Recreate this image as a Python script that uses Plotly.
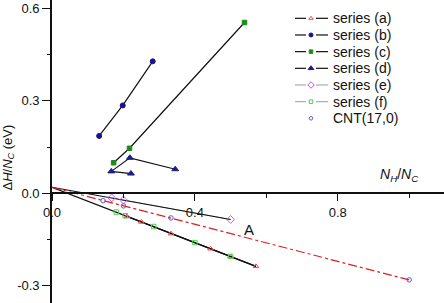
import plotly.graph_objects as go

# ---------------- data ----------------
a_x = [0.21, 0.25, 0.333, 0.444, 0.5, 0.571]
a_y = [-0.075, -0.093, -0.131, -0.180, -0.205, -0.237]
b_x = [0.132, 0.198, 0.282]
b_y = [0.186, 0.285, 0.428]
c_x = [0.1725, 0.217, 0.539]
c_y = [0.099, 0.146, 0.554]
d_x = [0.221, 0.166, 0.218, 0.345]
d_y = [0.064, 0.071, 0.115, 0.078]
e_x = [0.167, 0.2, 0.5]
e_y = [-0.015, -0.022, -0.085]
f_x = [0.18, 0.205, 0.285, 0.40, 0.50]
f_y = [-0.061, -0.073, -0.108, -0.160, -0.205]
cnt_x = [0.143, 0.2, 0.333, 1.0]
cnt_y = [-0.024, -0.041, -0.080, -0.281]

fit1_x = [0.0, 0.5]
fit1_y = [0.0195, -0.085]
fit2_x = [0.0, 0.571]
fit2_y = [0.0195, -0.237]
fit3_x = [0.0, 1.0]
fit3_y = [0.0195, -0.281]

y_tickvals = [-0.3, 0.0, 0.3, 0.6]
y_ticktext = ["-0.3", "0.0", "0.3", "0.6"]
x_tickvals = [0.0, 0.4, 0.8]
x_ticktext = ["0.0", "0.4", "0.8"]

series_names = ["series (a)", "series (b)", "series (c)", "series (d)",
                "series (e)", "series (f)", "CNT(17,0)"]

# ---------------- styles ----------------
FONT = "Arial, Liberation Sans, sans-serif"
W, H = 444, 303
ML = 52
XR = [0.0, 1.0975]
YR = [-0.356, 0.627]

styles = [
    dict(symbol="triangle-up-open", color="#f04848", size=5, line="#111111"),
    dict(symbol="circle", color="#14148c", size=5, line="#111111"),
    dict(symbol="square", color="#1a8c1a", size=4.5, line="#111111"),
    dict(symbol="triangle-up", color="#1c1c8a", size=6, line="#111111"),
    dict(symbol="diamond-open", color="#cc55ee", size=6, line="#aaaaaa"),
    dict(symbol="square-open", color="#55cc55", size=4.5, line="#aaaaaa"),
    dict(symbol="circle-open", color="#5a5ad8", size=4.5, line=None),
]
xs = [a_x, b_x, c_x, d_x, e_x, f_x, cnt_x]
ys = [a_y, b_y, c_y, d_y, e_y, f_y, cnt_y]

fig = go.Figure()

# gray series lines first (under fits)
for i in (4, 5):
    fig.add_trace(go.Scatter(x=xs[i], y=ys[i], mode="lines",
                             line=dict(color=styles[i]["line"], width=1),
                             showlegend=False, hoverinfo="skip"))
# fit lines
fig.add_trace(go.Scatter(x=fit1_x, y=fit1_y, mode="lines",
                         line=dict(color="#111111", width=1.2), showlegend=False))
fig.add_trace(go.Scatter(x=fit2_x, y=fit2_y, mode="lines",
                         line=dict(color="#111111", width=1.2), showlegend=False))
fig.add_trace(go.Scatter(x=fit3_x, y=fit3_y, mode="lines",
                         line=dict(color="#e02020", width=1.2, dash="dashdot"),
                         showlegend=False))
# black series lines
for i in (0, 1, 2, 3):
    fig.add_trace(go.Scatter(x=xs[i], y=ys[i], mode="lines",
                             line=dict(color=styles[i]["line"], width=1.2),
                             showlegend=False))
# markers on top
for i in range(7):
    s = styles[i]
    fig.add_trace(go.Scatter(x=xs[i], y=ys[i], mode="markers",
                             marker=dict(symbol=s["symbol"], color=s["color"], size=s["size"],
                                         line=dict(color=s["color"], width=1)),
                             showlegend=False))

# ---------------- manual legend on a pixel overlay axis ----------------
leg_x0, leg_x1, leg_xm, leg_tx = 295, 328, 311, 331
leg_y0, leg_dy = 18.3, 16.67
for i, name in enumerate(series_names):
    yy = leg_y0 + i * leg_dy
    s = styles[i]
    if s["line"]:
        fig.add_trace(go.Scatter(x=[leg_x0, leg_xm - 5], y=[yy, yy], mode="lines",
                                 xaxis="x2", yaxis="y2",
                                 line=dict(color=s["line"], width=1.2), showlegend=False))
        fig.add_trace(go.Scatter(x=[leg_xm + 5, leg_x1], y=[yy, yy], mode="lines",
                                 xaxis="x2", yaxis="y2",
                                 line=dict(color=s["line"], width=1.2), showlegend=False))
    fig.add_trace(go.Scatter(x=[leg_xm], y=[yy], mode="markers", xaxis="x2", yaxis="y2",
                             marker=dict(symbol=s["symbol"], color=s["color"],
                                         size=max(s["size"] - 1, 3.5),
                                         line=dict(color=s["color"], width=1)),
                             showlegend=False))
    fig.add_annotation(x=leg_tx, y=yy, xref="x2", yref="y2", text=name, showarrow=False,
                       xanchor="left", yanchor="middle",
                       font=dict(family=FONT, size=14, color="#111111"))

# axis titles and label
fig.add_annotation(x=399, y=175, xref="x2", yref="y2",
                   text="<i>N<sub>H</sub></i>/<i>N<sub>C</sub></i>", showarrow=False,
                   xanchor="center", yanchor="middle",
                   font=dict(family=FONT, size=14, color="#111111"))
fig.add_annotation(x=(7.5 - ML) / (W - ML), y=(H - 158) / H, xref="paper", yref="paper",
                   text="Δ<i>H</i>/<i>N<sub>C</sub></i> (eV)", showarrow=False,
                   textangle=-90, xanchor="center", yanchor="middle",
                   font=dict(family=FONT, size=13, color="#111111"))
fig.add_annotation(x=249, y=229, xref="x2", yref="y2", text="A", showarrow=False,
                   xanchor="center", yanchor="middle",
                   font=dict(family=FONT, size=15, color="#111111"))

xpos = (0 - YR[0]) / (YR[1] - YR[0])

fig.update_layout(
    width=W, height=H,
    margin=dict(l=ML, r=0, t=0, b=0, pad=0),
    paper_bgcolor="white", plot_bgcolor="white",
    font=dict(family=FONT, size=12, color="#111111"),
    showlegend=False,
    xaxis=dict(range=XR, anchor="free", position=xpos, showgrid=False, zeroline=False,
               showline=True, linecolor="#111111", linewidth=1.6,
               ticks="outside", ticklen=7, tickwidth=1.2, tickcolor="#111111",
               tickvals=x_tickvals, ticktext=x_ticktext,
               tickfont=dict(family=FONT, size=13, color="#111111"),
               minor=dict(dtick=0.2, tick0=0, ticks="outside", ticklen=4, tickwidth=1.2,
                          tickcolor="#111111", showgrid=False)),
    yaxis=dict(range=YR, showgrid=False, zeroline=False,
               showline=True, linecolor="#111111", linewidth=1.6,
               ticks="outside", ticklen=8, tickwidth=1.2, tickcolor="#111111",
               tickvals=y_tickvals, ticktext=y_ticktext,
               tickfont=dict(family=FONT, size=13, color="#111111"),
               minor=dict(dtick=0.15, tick0=0, ticks="outside", ticklen=3, tickwidth=1.2,
                          tickcolor="#111111", showgrid=False)),
    xaxis2=dict(range=[ML, W], overlaying="x", visible=False, domain=[0, 1]),
    yaxis2=dict(range=[H, 0], overlaying="y", visible=False, anchor="x2"),
)

fig.write_html("out.html")
